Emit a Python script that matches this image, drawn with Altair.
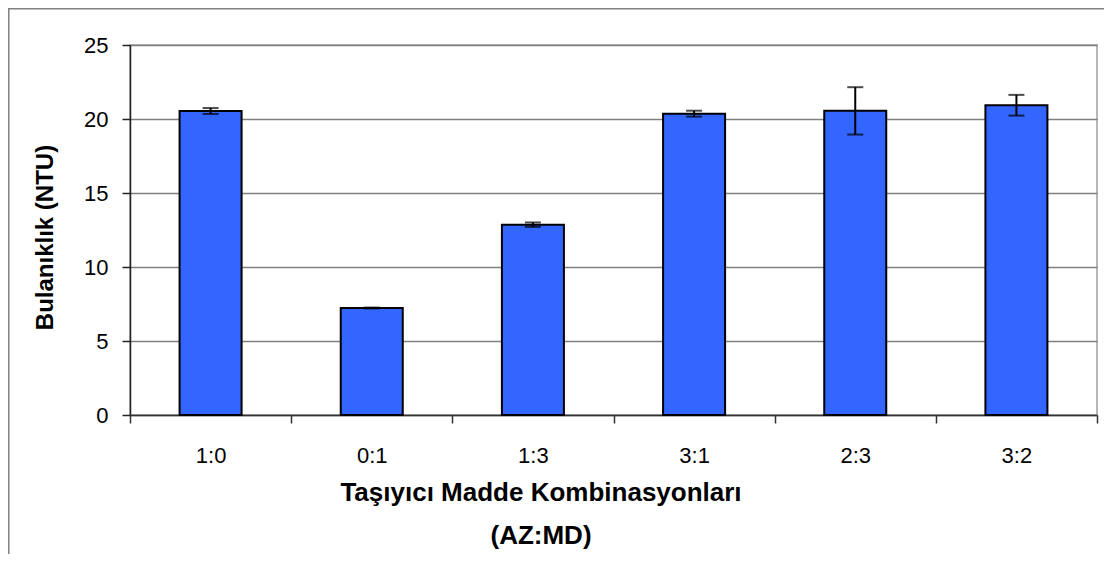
import altair as alt
import pandas as pd

categories = ["1:0", "0:1", "1:3", "3:1", "2:3", "3:2"]
values = [20.54, 7.23, 12.86, 20.36, 20.55, 20.93]
errors = [0.2, 0.03, 0.15, 0.2, 1.6, 0.7]
y_ticks = [0, 5, 10, 15, 20, 25]
x_title_1 = "Taşıyıcı Madde Kombinasyonları"
x_title_2 = "(AZ:MD)"
y_title = "Bulanıklık (NTU)"

df = pd.DataFrame({"cat": categories, "val": values, "err": errors})
df["lo"] = df["val"] - df["err"]
df["hi"] = df["val"] + df["err"]

FONT = "Liberation Sans, Arial, sans-serif"
W, H = 967, 370

x_enc = alt.X(
    "cat:N", sort=categories,
    scale=alt.Scale(paddingInner=0, paddingOuter=0),
    axis=alt.Axis(
        title=None, labelAngle=0, labelFontSize=22, labelFont=FONT, labelColor="black",
        tickBand="extent", tickSize=8, tickColor="#333", tickWidth=1.5,
        domainColor="#333", domainWidth=1.5, labelPadding=22, grid=False,
    ),
)
y_scale = alt.Scale(domain=[0, 25], nice=False)
y_axis = alt.Axis(
    values=y_ticks, title=y_title, titleFont=FONT, titleFontSize=24, titleFontWeight="bold",
    titleColor="black", titleAngle=270, titleX=-78, titleY=192, titleAlign="center",
    titleBaseline="alphabetic",
    labelFontSize=22, labelFont=FONT, labelColor="black", labelPadding=14,
    tickSize=8, tickColor="#222", tickWidth=1.5, domainColor="#222", domainWidth=1.5,
    gridColor="#808080", gridWidth=1.5,
)

base = alt.Chart(df)

frame = alt.Chart(df.head(1)).mark_rect(fill=None, stroke="#808080", strokeWidth=1.5).encode(
    x=alt.value(-121.2), x2=alt.value(W + 60), y=alt.value(-36.2), y2=alt.value(H + 300)
)

bars = base.mark_bar(color="#3366FF", stroke="black", strokeWidth=2, size=62).encode(
    x=x_enc,
    y=alt.Y("val:Q", scale=y_scale, axis=y_axis),
)
rules = base.mark_rule(color="black", strokeWidth=2).encode(
    x=alt.X("cat:N", sort=categories), y="lo:Q", y2="hi:Q"
)
cap_lo = base.mark_tick(color="black", thickness=2, size=16, orient="horizontal").encode(
    x=alt.X("cat:N", sort=categories), y="lo:Q"
)
cap_hi = base.mark_tick(color="black", thickness=2, size=16, orient="horizontal").encode(
    x=alt.X("cat:N", sort=categories), y="hi:Q"
)

t1 = alt.Chart(pd.DataFrame({"t": [x_title_1]})).mark_text(
    font=FONT, fontSize=26, fontWeight="bold", align="center", baseline="alphabetic", color="black"
).encode(text="t:N", x=alt.value(411), y=alt.value(456))
t2 = alt.Chart(pd.DataFrame({"t": [x_title_2]})).mark_text(
    font=FONT, fontSize=26, fontWeight="bold", align="center", baseline="alphabetic", color="black"
).encode(text="t:N", x=alt.value(411), y=alt.value(499))

chart = alt.layer(frame, bars, rules, cap_lo, cap_hi, t1, t2).properties(
    width=W, height=H,
    autosize=alt.AutoSizeParams(type="none"),
    padding={"left": 122, "top": 37, "right": 7, "bottom": 139},
    background="white",
).configure_view(stroke="#a0a0a0", strokeWidth=1.5).configure_axis(gridDash=[])

chart.save("out.html", embed_options={"renderer": "svg", "actions": False})
